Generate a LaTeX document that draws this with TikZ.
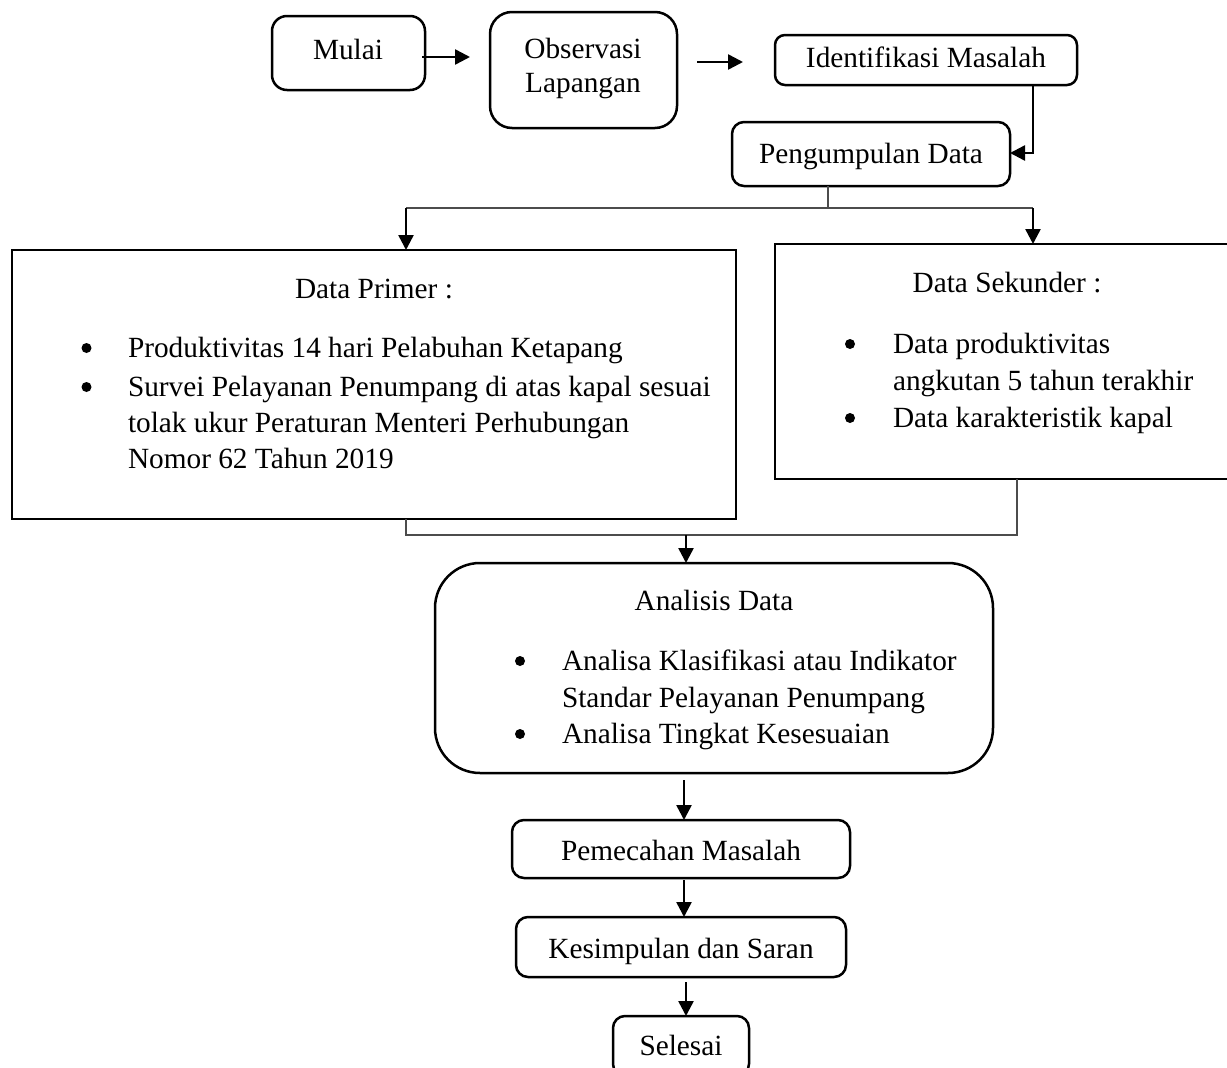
\documentclass[tikz,border=0pt]{standalone}
\usepackage{fontspec}
\setmainfont{Liberation Serif}
\usetikzlibrary{arrows.meta}
\begin{document}
\begin{tikzpicture}[x=1pt,y=-1pt,
  every node/.style={inner sep=0pt,outer sep=0pt},
  rbox/.style={draw,line width=2.5pt,rounded corners=#1},
  rbox/.default=12pt,
  sbox/.style={draw,line width=2.5pt},
  txt/.style={font=\fontsize{29.3}{35}\selectfont,anchor=base},
  txtl/.style={font=\fontsize{29.3}{35}\selectfont,anchor=base west},
  bul/.style={circle,fill=black,minimum size=10pt},
  arr/.style={line width=2.5pt,-{Triangle[length=15pt,width=15pt]}},
  thin/.style={line width=1.5pt,draw=black!70}
]
\useasboundingbox (0,0) rectangle (1227,1068);
\clip (0,0) rectangle (1227,1068);
\fill[white] (0,0) rectangle (1227,1068);

% boxes
\node[rbox=15pt,minimum width=153pt,minimum height=74pt] (mulai) at (348.5,53) {};
\node[rbox=22pt,minimum width=187pt,minimum height=116pt] (obs) at (583.5,70) {};
\node[rbox=10pt,minimum width=302pt,minimum height=50pt] (ident) at (926,60) {};
\node[rbox=12pt,minimum width=278pt,minimum height=64pt] (peng) at (871,154) {};
\node[sbox,minimum width=724pt,minimum height=269pt] (primer) at (374,384.5) {};
\node[sbox,minimum width=464pt,minimum height=235pt] (sek) at (1007,361.5) {};
\node[rbox=45pt,minimum width=558pt,minimum height=210pt] (anal) at (714,668) {};
\node[rbox=12pt,minimum width=338pt,minimum height=58pt] (pem) at (681,849) {};
\node[rbox=12pt,minimum width=330pt,minimum height=60pt] (kes) at (681,947) {};
\node[rbox=12pt,minimum width=136pt,minimum height=60pt] (sel) at (681,1046) {};

% texts
\node[txt] (tmulai) at (348,59) {Mulai};
\node[txt] (tobs1) at (583,58) {Observasi};
\node[txt] (tobs2) at (583,92) {Lapangan};
\node[txt] (tident) at (926,67) {Identifikasi Masalah};
\node[txt] (tpeng) at (871,163) {Pengumpulan Data};

\node[txt] (tprim) at (374,298) {Data Primer :};
\node[bul] (bp1) at (86.5,348) {};
\node[txtl] (tp1) at (128,357) {Produktivitas 14 hari Pelabuhan Ketapang};
\node[bul] (bp2) at (86.5,387) {};
\node[txtl] (tp2) at (128,396) {Survei Pelayanan Penumpang di atas kapal sesuai};
\node[txtl] (tp3) at (128,432) {tolak ukur Peraturan Menteri Perhubungan};
\node[txtl] (tp4) at (128,468) {Nomor 62 Tahun 2019};

\node[txt] (tsek) at (1007,292) {Data Sekunder :};
\node[bul] (bs1) at (850,344) {};
\node[txtl] (ts1) at (893,353) {Data produktivitas};
\node[txtl] (ts2) at (893,390) {angkutan 5 tahun terakhir};
\node[bul] (bs2) at (850,418) {};
\node[txtl] (ts3) at (893,427) {Data karakteristik kapal};

\node[txt] (tanal) at (714,610) {Analisis Data};
\node[bul] (ba1) at (520,661) {};
\node[txtl] (ta1) at (562,670) {Analisa Klasifikasi atau Indikator};
\node[txtl] (ta2) at (562,707) {Standar Pelayanan Penumpang};
\node[bul] (ba2) at (520,734) {};
\node[txtl] (ta3) at (562,743) {Analisa Tingkat Kesesuaian};

\node[txt] (tpem) at (681,860) {Pemecahan Masalah};
\node[txt] (tkes) at (681,958) {Kesimpulan dan Saran};
\node[txt] (tsel) at (681,1055) {Selesai};

% connectors
\draw[arr] ([xshift=-3pt,yshift=-4pt]mulai.east) -- ([xshift=-20pt,yshift=13pt]obs.west);
\draw[arr] ([xshift=20pt,yshift=8pt]obs.east) -- ([xshift=-32pt,yshift=-2pt]ident.west);
\coordinate (c1) at (1033,153);
\draw[arr] (ident.south -| c1) -- (c1) -- (c1 -| peng.east);

\coordinate (splitT) at (828,208);
\coordinate (splitL) at (406,208);
\coordinate (splitR) at (1033,208);
\draw[thin] (peng.south -| splitT) -- (splitT);
\draw[thin] (splitL) -- (splitR);
\draw[arr] (splitL) -- (splitL |- primer.north);
\draw[arr] (splitR) -- (splitR |- sek.north);

\coordinate (joinL) at (406,535);
\coordinate (joinR) at (1017,535);
\coordinate (joinM) at (686,535);
\draw[thin] (primer.south -| joinL) -- (joinL) -- (joinR) -- (sek.south -| joinR);
\draw[arr] (joinM) -- (joinM |- anal.north);

\draw[arr] ([xshift=-30pt,yshift=-7pt]anal.south) -- ([xshift=3pt]pem.north);
\draw[arr] ([xshift=3pt,yshift=-2pt]pem.south) -- ([xshift=3pt]kes.north);
\draw[arr] ([xshift=5pt,yshift=-5pt]kes.south) -- ([xshift=5pt]sel.north);
\end{tikzpicture}
\end{document}
